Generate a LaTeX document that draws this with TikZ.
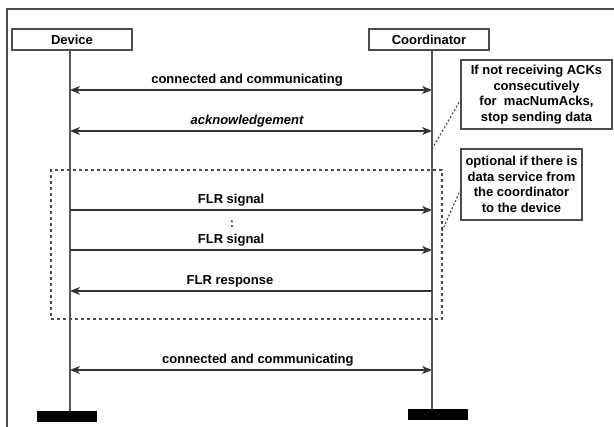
\documentclass[tikz,border=0pt]{standalone}
\usepackage{fontspec}
\setmainfont{Liberation Sans}
\usetikzlibrary{arrows.meta,calc}
\begin{document}
\begin{tikzpicture}[x=1pt,y=-1pt,
  txt/.style={font=\fontsize{13}{15.5}\selectfont\bfseries},
  actor/.style={draw=black!70,line width=1.2pt,minimum width=120pt,minimum height=21pt,inner sep=0pt,txt},
  bar/.style={fill=black,minimum width=60pt,minimum height=11pt,inner sep=0pt},
  life/.style={draw=black!65,line width=1.2pt},
  tip/.style={},
  msg/.style={draw=black!80,line width=1.2pt,arrows={Stealth[length=10pt,width=8pt,inset=3pt]-Stealth[length=10pt,width=8pt,inset=3pt]}},
  msgr/.style={draw=black!80,line width=1.2pt,-{Stealth[length=10pt,width=8pt,inset=3pt]}},
  lbl/.style={txt,anchor=base,yshift=6.5pt,inner sep=0pt},
  note/.style={draw=black!70,line width=1.2pt,inner sep=0pt,align=center,txt},
  frag/.style={draw=black!70,line width=1.2pt,dash pattern=on 3pt off 3pt,inner sep=0pt,minimum width=391pt,minimum height=149pt},
  conn/.style={draw=black!70,line width=1.2pt,dash pattern=on 2pt off 2pt}]
\useasboundingbox (0,0) rectangle (614,427);
% outer frame
\draw[draw=black!70,line width=1.2pt] (614,9) -- (7,9) -- (7,427);
% actors
\node[actor] (dev) at (72,39.5) {Device};
\node[actor] (coord) at (429,39.5) {Coordinator};
\node[bar] (dend) at (67,416.5) {};
\node[bar] (cend) at (438,414.5) {};
\coordinate (dtop) at (70,50);
\coordinate (ctop) at (432,50);
\draw[life] (dtop) -- (dtop |- dend.north);
\draw[life] (ctop) -- (ctop |- cend.north);
% fragment
\node[frag] (frag) at (246.5,244.5) {};
% notes
\node[note,minimum width=151pt,minimum height=69pt] (n1) at (536.5,94.5)
  {If not receiving ACKs\\consecutively\\for\ \ macNumAcks,\\stop sending data};
\node[note,minimum width=121pt,minimum height=71pt] (n2) at (521.5,184.5)
  {optional if there is\\data service from\\the coordinator\\to the device};
\coordinate (a1) at (432,149);
\coordinate (a2) at (442,231);
\draw[conn] (a1) -- ($(n1.west)+(0,5.5)$);
\draw[conn] (a2) -- ($(n2.west)+(0,5.5)$);
% messages
\coordinate (d1) at (70,90);  \coordinate (c1) at (432,90);
\coordinate (d2) at (70,131); \coordinate (c2) at (432,131);
\coordinate (d3) at (70,210); \coordinate (c3) at (432,210);
\coordinate (d4) at (70,250); \coordinate (c4) at (432,250);
\coordinate (d5) at (70,291); \coordinate (c5) at (432,291);
\coordinate (d6) at (70,370); \coordinate (c6) at (432,370);
\draw[msg] (d1) -- (c1) node[lbl,pos=0.489] (l1) {connected and communicating};
\draw[msg] (d2) -- (c2) node[lbl,pos=0.489] (l2) {\itshape acknowledgement};
\draw[msgr] (d3) -- (c3) node[lbl,pos=0.445] (l3) {FLR signal};
\draw[msgr] (d4) -- (c4) node[lbl,pos=0.445] (l4) {FLR signal};
\draw[msgr] (c5) -- (d5) node[lbl,pos=0.558] (l5) {FLR response};
\draw[msg] (d6) -- (c6) node[lbl,pos=0.519] (l6) {connected and communicating};
\node[txt,text=black!75,inner sep=0pt] (dots) at (232,224) {:};
\end{tikzpicture}
\end{document}
